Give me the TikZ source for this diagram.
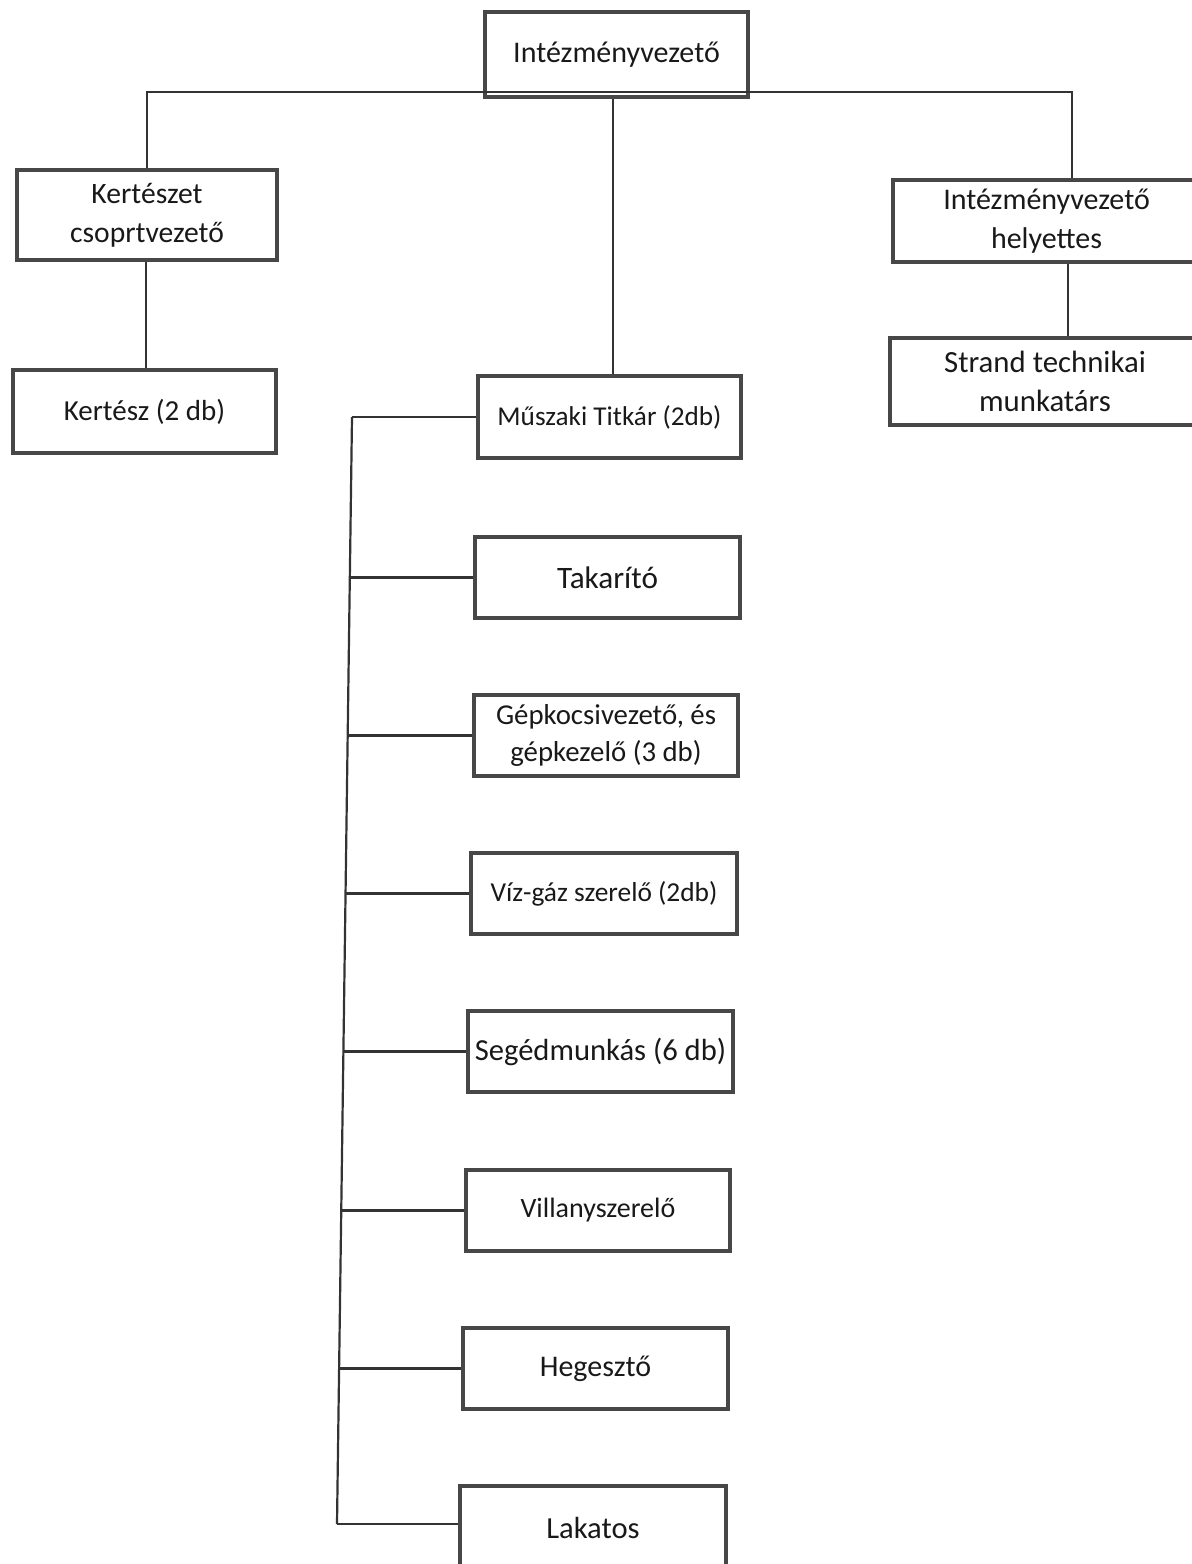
\documentclass[tikz,border=0pt]{standalone}
\usepackage{fontspec}
\setmainfont{Carlito}
\newcommand\fsz[1]{\fontsize{#1pt}{19.5pt}\selectfont}
\begin{document}
\begin{tikzpicture}[x=0.5pt,y=-0.5pt,
  orgbox/.style={draw=black!72, line width=1.8pt, rectangle, inner sep=0pt,
    align=center, text=black!90},
  conn/.style={draw=black!80, line width=1.1pt}]
\useasboundingbox (0,0) rectangle (1192,1564);
\clip (0,0) rectangle (1192,1564);
\fill[white] (0,0) rectangle (1192,1564);

% top level
\node[orgbox, minimum width=131.5pt, minimum height=42.5pt, font=\fsz{15}] (top) at (616.5,54.5) {Intézményvezető};

% left branch
\node[orgbox, minimum width=130pt, minimum height=45pt, font=\fsz{14.8}] (kert) at (147,215) {Kertészet\\csoprtvezető};
\node[orgbox, minimum width=131.5pt, minimum height=41.5pt, font=\fsz{14.5}] (kertesz) at (144.5,411.5) {Kertész (2 db)};

% right branch
\node[orgbox, minimum width=153.5pt, minimum height=41pt, font=\fsz{15}] (help) at (1046.5,221) {Intézményvezető\\helyettes};
\node[orgbox, minimum width=155pt, minimum height=43.5pt, font=\fsz{15.4}] (strand) at (1045,381.5) {Strand technikai\\munkatárs};

% middle column
\node[orgbox, minimum width=131.5pt, minimum height=41pt, font=\fsz{13.6}] (musz) at (609.5,417) {Műszaki Titkár (2db)};
\node[orgbox, minimum width=132.5pt, minimum height=40.5pt, font=\fsz{15.6}] (tak) at (607.5,577.5) {Takarító};
\node[orgbox, minimum width=132pt, minimum height=40.5pt, font=\fontsize{14.4pt}{18.5pt}\selectfont] (gep) at (606,735.5) {Gépkocsivezető, és\\gépkezelő (3 db)};
\node[orgbox, minimum width=133pt, minimum height=40.5pt, font=\fsz{13.7}] (viz) at (604,893.5) {Víz-gáz szerelő (2db)};
\node[orgbox, minimum width=132.5pt, minimum height=40.5pt, font=\fsz{15.3}] (seg) at (600.5,1051.5) {Segédmunkás (6 db)};
\node[orgbox, minimum width=132pt, minimum height=40.5pt, font=\fsz{14}] (vill) at (598,1210.5) {Villanyszerelő};
\node[orgbox, minimum width=132.5pt, minimum height=40.5pt, font=\fsz{15}] (heg) at (595.5,1368.5) {Hegesztő};
\node[orgbox, minimum width=133pt, minimum height=42pt, font=\fsz{15.3}] (lak) at (593,1528) {Lakatos};

% helper coordinates
\coordinate (bus) at (0,92);
\coordinate (midx) at (613,0);
\coordinate (kertx) at (146,0);
\coordinate (helpx) at (1072,0);
\coordinate (strandx) at (1068,0);
\coordinate (t1) at (352,417);
\coordinate (t2) at (349.8,577.5);
\coordinate (t3) at (347.7,735.5);
\coordinate (t4) at (345.5,893.5);
\coordinate (t5) at (343.4,1051.5);
\coordinate (t6) at (341.2,1210.5);
\coordinate (t7) at (339.1,1368.5);
\coordinate (t8) at (337,1524);

% top bus
\draw[conn] (kert.north) -- (kert.north |- bus) -- (helpx |- bus) -- (helpx |- help.north);
\draw[conn] (midx |- top.south) -- (midx |- musz.north);
\draw[conn] (kertx |- kert.south) -- (kertx |- kertesz.north);
\draw[conn] (strandx |- help.south) -- (strandx |- strand.north);

% trunk and branches
\draw[conn] (t1) -- (t8);
\draw[conn] (t1) -- (musz.west);
\draw[conn] (t2) -- (tak.west);
\draw[conn] (t3) -- (gep.west);
\draw[conn] (t4) -- (viz.west);
\draw[conn] (t5) -- (seg.west);
\draw[conn] (t6) -- (vill.west);
\draw[conn] (t7) -- (heg.west);
\draw[conn] (t8) -- (lak.west |- t8);
\end{tikzpicture}
\end{document}
